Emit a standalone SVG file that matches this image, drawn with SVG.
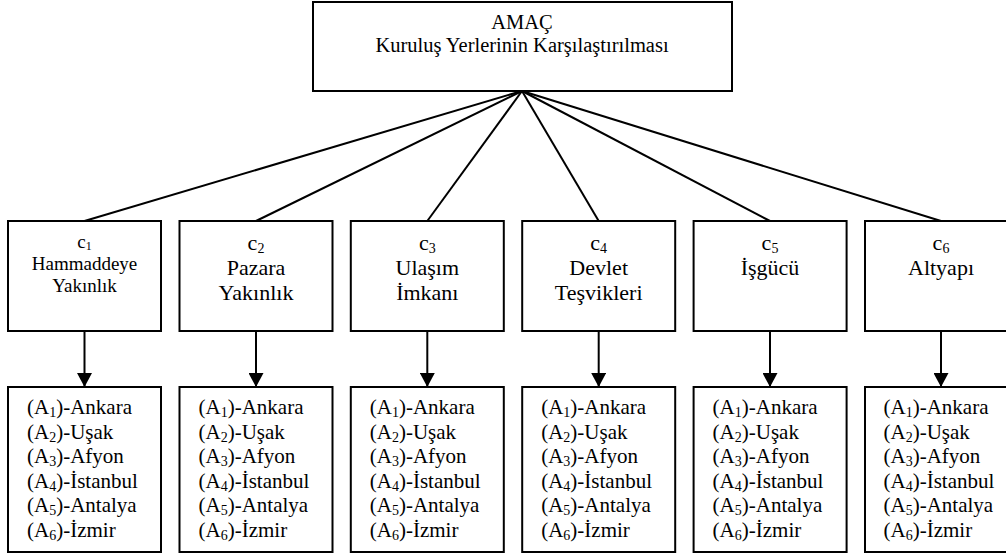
<svg xmlns="http://www.w3.org/2000/svg" width="1006" height="557" viewBox="0 0 1006 557">
<style>
.box{fill:#fff;stroke:#000;stroke-width:2}
text{font-family:"Liberation Serif","Times New Roman",serif;fill:#000}
.ct{font-size:22px;text-anchor:middle}
.c1t{font-size:19px;text-anchor:middle}
.at{font-size:21px}
.sub{font-size:14px}
.conn line{stroke:#000;stroke-width:2}
</style>
<defs>
<marker id="ah" markerWidth="16" markerHeight="15" refX="15" refY="8" orient="auto" markerUnits="userSpaceOnUse" viewBox="0 0 15 16">
<path d="M0,0 L15,8 L0,16 z" fill="#000"/>
</marker>
</defs>
<g id="goal">
<rect class="box" x="313" y="2" width="419" height="89"/>
<text x="522" y="28.5" font-size="20.5" text-anchor="middle">AMAÇ</text>
<text x="522" y="52" font-size="20.5" text-anchor="middle">Kuruluş Yerlerinin Karşılaştırılması</text>
</g>
<g id="connectors" class="conn">
<line x1="522" y1="91" x2="84.5" y2="221"/>
<line x1="522" y1="91" x2="256" y2="221"/>
<line x1="522" y1="91" x2="427.3" y2="221"/>
<line x1="522" y1="91" x2="598.7" y2="221"/>
<line x1="522" y1="91" x2="770" y2="221"/>
<line x1="522" y1="91" x2="941" y2="221"/>
<line x1="84.5" y1="331" x2="84.5" y2="387" marker-end="url(#ah)"/>
<line x1="256" y1="331" x2="256" y2="387" marker-end="url(#ah)"/>
<line x1="427.3" y1="331" x2="427.3" y2="387" marker-end="url(#ah)"/>
<line x1="598.7" y1="331" x2="598.7" y2="387" marker-end="url(#ah)"/>
<line x1="770" y1="331" x2="770" y2="387" marker-end="url(#ah)"/>
<line x1="941" y1="331" x2="941" y2="387" marker-end="url(#ah)"/>
</g>
<g id="c1">
<rect class="box" x="8" y="221" width="153" height="110"/>
<text class="c1t" x="84.5" y="248">c<tspan font-size="12" dy="2">1</tspan></text>
<text class="c1t" x="84.5" y="270">Hammaddeye</text>
<text class="c1t" x="84.5" y="292">Yakınlık</text>
</g>
<g id="c2">
<rect class="box" x="179.5" y="221" width="153" height="110"/>
<text class="ct" x="256" y="250">c<tspan class="sub" dy="3">2</tspan></text>
<text class="ct" x="256" y="275">Pazara</text>
<text class="ct" x="256" y="300">Yakınlık</text>
</g>
<g id="c3">
<rect class="box" x="350.8" y="221" width="153" height="110"/>
<text class="ct" x="427.3" y="250">c<tspan class="sub" dy="3">3</tspan></text>
<text class="ct" x="427.3" y="275">Ulaşım</text>
<text class="ct" x="427.3" y="300">İmkanı</text>
</g>
<g id="c4">
<rect class="box" x="522.2" y="221" width="153" height="110"/>
<text class="ct" x="598.7" y="250">c<tspan class="sub" dy="3">4</tspan></text>
<text class="ct" x="598.7" y="275">Devlet</text>
<text class="ct" x="598.7" y="300">Teşvikleri</text>
</g>
<g id="c5">
<rect class="box" x="693.6" y="221" width="153" height="110"/>
<text class="ct" x="770" y="250">c<tspan class="sub" dy="3">5</tspan></text>
<text class="ct" x="770" y="275">İşgücü</text>
</g>
<g id="c6">
<rect class="box" x="865" y="221" width="153" height="110"/>
<text class="ct" x="941" y="250">c<tspan class="sub" dy="3">6</tspan></text>
<text class="ct" x="941" y="275">Altyapı</text>
</g>
<g id="alt1">
<rect class="box" x="8" y="387" width="153" height="165"/>
<text class="at" x="27" y="414">(A<tspan class="sub" dy="3">1</tspan><tspan dy="-3">)-Ankara</tspan></text>
<text class="at" x="27" y="438.5">(A<tspan class="sub" dy="3">2</tspan><tspan dy="-3">)-Uşak</tspan></text>
<text class="at" x="27" y="463">(A<tspan class="sub" dy="3">3</tspan><tspan dy="-3">)-Afyon</tspan></text>
<text class="at" x="27" y="487.5">(A<tspan class="sub" dy="3">4</tspan><tspan dy="-3">)-İstanbul</tspan></text>
<text class="at" x="27" y="512">(A<tspan class="sub" dy="3">5</tspan><tspan dy="-3">)-Antalya</tspan></text>
<text class="at" x="27" y="536.5">(A<tspan class="sub" dy="3">6</tspan><tspan dy="-3">)-İzmir</tspan></text>
</g>
<g id="alt2">
<rect class="box" x="179.5" y="387" width="153" height="165"/>
<text class="at" x="198.5" y="414">(A<tspan class="sub" dy="3">1</tspan><tspan dy="-3">)-Ankara</tspan></text>
<text class="at" x="198.5" y="438.5">(A<tspan class="sub" dy="3">2</tspan><tspan dy="-3">)-Uşak</tspan></text>
<text class="at" x="198.5" y="463">(A<tspan class="sub" dy="3">3</tspan><tspan dy="-3">)-Afyon</tspan></text>
<text class="at" x="198.5" y="487.5">(A<tspan class="sub" dy="3">4</tspan><tspan dy="-3">)-İstanbul</tspan></text>
<text class="at" x="198.5" y="512">(A<tspan class="sub" dy="3">5</tspan><tspan dy="-3">)-Antalya</tspan></text>
<text class="at" x="198.5" y="536.5">(A<tspan class="sub" dy="3">6</tspan><tspan dy="-3">)-İzmir</tspan></text>
</g>
<g id="alt3">
<rect class="box" x="350.8" y="387" width="153" height="165"/>
<text class="at" x="369.8" y="414">(A<tspan class="sub" dy="3">1</tspan><tspan dy="-3">)-Ankara</tspan></text>
<text class="at" x="369.8" y="438.5">(A<tspan class="sub" dy="3">2</tspan><tspan dy="-3">)-Uşak</tspan></text>
<text class="at" x="369.8" y="463">(A<tspan class="sub" dy="3">3</tspan><tspan dy="-3">)-Afyon</tspan></text>
<text class="at" x="369.8" y="487.5">(A<tspan class="sub" dy="3">4</tspan><tspan dy="-3">)-İstanbul</tspan></text>
<text class="at" x="369.8" y="512">(A<tspan class="sub" dy="3">5</tspan><tspan dy="-3">)-Antalya</tspan></text>
<text class="at" x="369.8" y="536.5">(A<tspan class="sub" dy="3">6</tspan><tspan dy="-3">)-İzmir</tspan></text>
</g>
<g id="alt4">
<rect class="box" x="522.2" y="387" width="153" height="165"/>
<text class="at" x="541.2" y="414">(A<tspan class="sub" dy="3">1</tspan><tspan dy="-3">)-Ankara</tspan></text>
<text class="at" x="541.2" y="438.5">(A<tspan class="sub" dy="3">2</tspan><tspan dy="-3">)-Uşak</tspan></text>
<text class="at" x="541.2" y="463">(A<tspan class="sub" dy="3">3</tspan><tspan dy="-3">)-Afyon</tspan></text>
<text class="at" x="541.2" y="487.5">(A<tspan class="sub" dy="3">4</tspan><tspan dy="-3">)-İstanbul</tspan></text>
<text class="at" x="541.2" y="512">(A<tspan class="sub" dy="3">5</tspan><tspan dy="-3">)-Antalya</tspan></text>
<text class="at" x="541.2" y="536.5">(A<tspan class="sub" dy="3">6</tspan><tspan dy="-3">)-İzmir</tspan></text>
</g>
<g id="alt5">
<rect class="box" x="693.6" y="387" width="153" height="165"/>
<text class="at" x="712.6" y="414">(A<tspan class="sub" dy="3">1</tspan><tspan dy="-3">)-Ankara</tspan></text>
<text class="at" x="712.6" y="438.5">(A<tspan class="sub" dy="3">2</tspan><tspan dy="-3">)-Uşak</tspan></text>
<text class="at" x="712.6" y="463">(A<tspan class="sub" dy="3">3</tspan><tspan dy="-3">)-Afyon</tspan></text>
<text class="at" x="712.6" y="487.5">(A<tspan class="sub" dy="3">4</tspan><tspan dy="-3">)-İstanbul</tspan></text>
<text class="at" x="712.6" y="512">(A<tspan class="sub" dy="3">5</tspan><tspan dy="-3">)-Antalya</tspan></text>
<text class="at" x="712.6" y="536.5">(A<tspan class="sub" dy="3">6</tspan><tspan dy="-3">)-İzmir</tspan></text>
</g>
<g id="alt6">
<rect class="box" x="865" y="387" width="153" height="165"/>
<text class="at" x="883.5" y="414">(A<tspan class="sub" dy="3">1</tspan><tspan dy="-3">)-Ankara</tspan></text>
<text class="at" x="883.5" y="438.5">(A<tspan class="sub" dy="3">2</tspan><tspan dy="-3">)-Uşak</tspan></text>
<text class="at" x="883.5" y="463">(A<tspan class="sub" dy="3">3</tspan><tspan dy="-3">)-Afyon</tspan></text>
<text class="at" x="883.5" y="487.5">(A<tspan class="sub" dy="3">4</tspan><tspan dy="-3">)-İstanbul</tspan></text>
<text class="at" x="883.5" y="512">(A<tspan class="sub" dy="3">5</tspan><tspan dy="-3">)-Antalya</tspan></text>
<text class="at" x="883.5" y="536.5">(A<tspan class="sub" dy="3">6</tspan><tspan dy="-3">)-İzmir</tspan></text>
</g>
</svg>
